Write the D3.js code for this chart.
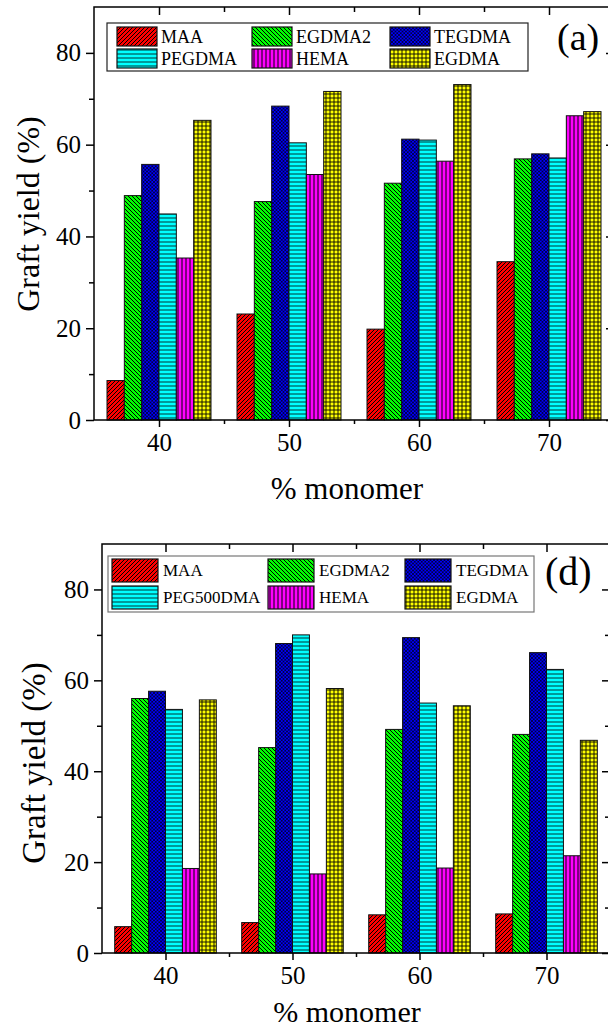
<!DOCTYPE html>
<html>
<head>
<meta charset="utf-8">
<script src="https://cdnjs.cloudflare.com/ajax/libs/d3/7.8.5/d3.min.js"></script>
<style>
  body { margin: 0; background: #fff; }
</style>
</head>
<body>
<div id="chart"></div>
<script>
// graft yield vs % monomer, two panels (a) and (d)

const monomerLevels = [40, 50, 60, 70];
const yTicks = [0, 20, 40, 60, 80];
const yMinorTicks = [10, 30, 50, 70];
const xMinorTicks = [45, 55, 65];

const seriesNamesA = ["MAA", "EGDMA2", "TEGDMA", "PEGDMA", "HEMA", "EGDMA"];
const seriesNamesD = ["MAA", "EGDMA2", "TEGDMA", "PEG500DMA", "HEMA", "EGDMA"];

// one row per series, one value per monomer level
const yieldsA = [
    [8.6, 23.1, 19.8, 34.5],
    [48.9, 47.6, 51.6, 56.9],
    [55.7, 68.4, 61.2, 58.0],
    [44.9, 60.4, 61.0, 57.1],
    [35.3, 53.5, 56.4, 66.3],
    [65.3, 71.6, 73.1, 67.2]
];
const yieldsD = [
    [5.8, 6.7, 8.4, 8.6],
    [56.0, 45.2, 49.2, 48.1],
    [57.6, 68.1, 69.4, 66.1],
    [53.6, 70.0, 55.0, 62.4],
    [18.6, 17.4, 18.7, 21.4],
    [55.7, 58.2, 54.4, 46.8]
];

const patternIds = ["pMAA", "pEGDMA2", "pTEGDMA", "pPEG", "pHEMA", "pEGDMA"];
const FONT = "Liberation Serif";

const svg = d3.select("#chart").append("svg")
    .attr("width", 608)
    .attr("height", 1031)
    .attr("font-family", FONT);

const defs = svg.append("defs");

function addPattern(id, size, fill, paths, stroke, sw) {
    const p = defs.append("pattern")
        .attr("id", id)
        .attr("patternUnits", "userSpaceOnUse")
        .attr("width", size)
        .attr("height", size);
    p.append("rect").attr("width", size).attr("height", size).attr("fill", fill);
    p.append("path").attr("d", paths).attr("stroke", stroke).attr("stroke-width", sw).attr("fill", "none");
}
addPattern("pMAA", 4, "#ff0000", "M-1,1 l2,-2 M0,4 l4,-4 M3,5 l2,-2", "#000", 1);
addPattern("pEGDMA2", 4, "#00ff00", "M-1,3 l2,2 M0,0 l4,4 M3,-1 l2,2", "#000", 1);
addPattern("pTEGDMA", 3.5, "#0000ff", "M-1,1 l2,-2 M0,3.5 l3.5,-3.5 M2.5,4.5 l2,-2 M-1,2.5 l2,2 M0,0 l3.5,3.5 M2.5,-1 l2,2", "#000030", 0.8);
addPattern("pPEG", 4, "#00ffff", "M0,2 h4", "#003333", 1);
addPattern("pHEMA", 4, "#ff00ff", "M2,0 v4", "#000", 1);
addPattern("pEGDMA", 4, "#ffff00", "M0,2 h4 M2,0 v4", "#000", 0.9);

function drawPanel(cfg) {
    const g = svg.append("g");

    const x = d3.scaleLinear().domain([35, 75]).range([cfg.left, cfg.right]);
    const y = d3.scaleLinear().domain([0, 90]).range([cfg.bottom, cfg.top]);

    // bars
    cfg.values.forEach((row, si) => {
        row.forEach((v, mi) => {
            const m = monomerLevels[mi];
            const sub = d3.scaleBand().domain(d3.range(cfg.names.length)).range([x(m - 4), x(m + 4)]);
            g.append("rect")
                .attr("x", sub(si))
                .attr("y", y(v))
                .attr("width", sub.bandwidth())
                .attr("height", y(0) - y(v))
                .attr("fill", `url(#${patternIds[si]})`)
                .attr("stroke", "#111")
                .attr("stroke-width", 1);
        });
    });

    // axes
    const gl = g.append("g").attr("transform", `translate(${cfg.left},0)`)
        .call(d3.axisLeft(y).tickValues(yTicks).tickSize(8).tickPadding(5));
    g.append("g").attr("transform", `translate(${cfg.left},0)`)
        .call(d3.axisLeft(y).tickValues(yMinorTicks).tickSize(5).tickFormat(""));
    g.append("g").attr("transform", `translate(${cfg.right},0)`)
        .call(d3.axisRight(y).tickValues(yTicks).tickSize(-8).tickFormat(""));
    g.append("g").attr("transform", `translate(${cfg.right},0)`)
        .call(d3.axisRight(y).tickValues(yMinorTicks).tickSize(-5).tickFormat(""));
    const gb = g.append("g").attr("transform", `translate(0,${cfg.bottom})`)
        .call(d3.axisBottom(x).tickValues(monomerLevels).tickSize(7).tickPadding(6));
    g.append("g").attr("transform", `translate(0,${cfg.bottom})`)
        .call(d3.axisBottom(x).tickValues(xMinorTicks).tickSize(4).tickFormat(""));
    g.append("g").attr("transform", `translate(0,${cfg.top})`)
        .call(d3.axisTop(x).tickValues(monomerLevels).tickSize(-8).tickFormat(""));
    g.append("g").attr("transform", `translate(0,${cfg.top})`)
        .call(d3.axisTop(x).tickValues(xMinorTicks).tickSize(-5).tickFormat(""));

    g.selectAll(".domain").remove();
    g.selectAll(".tick line").attr("stroke", "#000").attr("stroke-width", 1.5);
    gl.attr("font-family", FONT).attr("font-size", cfg.tickFont);
    gb.attr("font-family", FONT).attr("font-size", cfg.tickFont);

    g.append("rect")
        .attr("x", cfg.left).attr("y", cfg.top)
        .attr("width", cfg.right - cfg.left).attr("height", cfg.bottom - cfg.top)
        .attr("fill", "none").attr("stroke", "#000").attr("stroke-width", 1.5);

    // titles
    g.append("text")
        .attr("transform", `translate(${cfg.yTitleX},${cfg.yTitleY}) rotate(-90)`)
        .attr("text-anchor", "middle")
        .attr("font-size", cfg.yTitleFont)
        .text("Graft yield (%)");
    g.append("text")
        .attr("x", 347)
        .attr("y", cfg.xTitleY)
        .attr("text-anchor", "middle")
        .attr("font-size", cfg.xTitleFont)
        .text("% monomer");
    g.append("text")
        .attr("x", cfg.tagX).attr("y", cfg.tagY)
        .attr("font-size", cfg.tagFont)
        .text(cfg.tag);

    // legend
    const L = cfg.legend;
    g.append("rect")
        .attr("x", L.x).attr("y", L.y).attr("width", L.w).attr("height", L.h)
        .attr("fill", "#fff").attr("stroke", L.border).attr("stroke-width", 1.2);
    cfg.names.forEach((name, i) => {
        const col = i % 3, row = Math.floor(i / 3);
        const sx = L.cols[col], sy = L.rows[row];
        g.append("rect")
            .attr("x", sx).attr("y", sy).attr("width", L.sw).attr("height", L.sh)
            .attr("fill", `url(#${patternIds[i]})`)
            .attr("stroke", "#111").attr("stroke-width", 1.2);
        g.append("text")
            .attr("x", sx + L.sw + L.gap)
            .attr("y", sy + L.sh / 2)
            .attr("dy", "0.35em")
            .attr("font-size", L.font)
            .text(name);
    });
}

drawPanel({
    names: seriesNamesA, values: yieldsA,
    left: 94, right: 614, top: 7, bottom: 420,
    tickFont: 25, yTitleFont: 32, xTitleFont: 31, yTitleX: 39, yTitleY: 214, xTitleY: 499,
    tag: "(a)", tagX: 557, tagY: 50, tagFont: 38,
    legend: { x: 107, y: 23, w: 421, h: 48, cols: [117, 252, 390], rows: [27, 49], sw: 40, sh: 19, gap: 4, font: 18, border: "#222" }
});

drawPanel({
    names: seriesNamesD, values: yieldsD,
    left: 102, right: 610, top: 544, bottom: 953,
    tickFont: 25, yTitleFont: 33, xTitleFont: 30, yTitleX: 45, yTitleY: 763, xTitleY: 1022,
    tag: "(d)", tagX: 545, tagY: 585, tagFont: 40,
    legend: { x: 108, y: 556, w: 426, h: 56, cols: [112, 268, 405], rows: [559, 586], sw: 46, sh: 23, gap: 5, font: 17, border: "#777" }
});

svg.selectAll("text").attr("font-family", FONT).attr("fill", "#000");
</script>
</body>
</html>
